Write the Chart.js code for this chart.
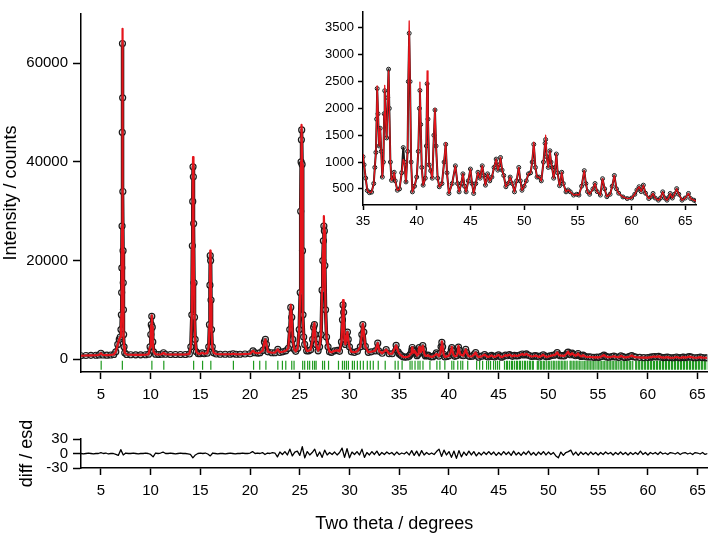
<!DOCTYPE html>
<html>
<head>
<meta charset="utf-8">
<script src="https://cdn.jsdelivr.net/npm/chart.js@4.4.1/dist/chart.umd.min.js"></script>
<style>
html, body { margin: 0; padding: 0; background: #fff; }
#page { position: relative; width: 713px; height: 535px; overflow: hidden; }
.box { position: absolute; }
</style>
</head>
<body>
<div id="page">
  <div class="box" style="left:0;top:0;width:713px;height:410px"><canvas id="mainChart"></canvas></div>
  <div class="box" style="left:0;top:420px;width:713px;height:115px"><canvas id="diffChart"></canvas></div>
  <div class="box" style="left:300px;top:0;width:413px;height:235px"><canvas id="insetChart"></canvas></div>
</div>
<script>
const twoTheta = [
    3.0, 3.5, 4.0, 4.5, 4.8, 5.0, 5.2, 5.6, 6.0, 6.3,
    6.5, 6.7, 6.85, 6.95, 7.02, 7.06, 7.09, 7.11, 7.13, 7.15,
    7.17, 7.19, 7.21, 7.23, 7.25, 7.27, 7.29, 7.33, 7.4, 7.6,
    8.0, 8.5, 9.0, 9.5, 9.8, 9.95, 10.02, 10.07, 10.12, 10.17,
    10.22, 10.3, 10.5, 10.8, 11.1, 11.3, 11.5, 12.0, 12.5, 13.0,
    13.5, 13.9, 14.05, 14.15, 14.2, 14.24, 14.27, 14.3, 14.33, 14.37,
    14.42, 14.48, 14.6, 14.8, 15.0, 15.2, 15.4, 15.7, 15.85, 15.92,
    15.97, 16.0, 16.04, 16.08, 16.13, 16.2, 16.35, 16.6, 17.0, 17.5,
    18.0, 18.3, 18.6, 19.0, 19.5, 20.0, 20.3, 20.5, 20.8, 21.0,
    21.3, 21.45, 21.55, 21.65, 21.8, 22.2, 22.5, 22.8, 23.0, 23.3,
    23.6, 23.85, 24.0, 24.1, 24.2, 24.3, 24.45, 24.6, 24.8, 24.95,
    25.05, 25.1, 25.14, 25.17, 25.2, 25.24, 25.28, 25.33, 25.4, 25.5,
    25.7, 25.9, 26.1, 26.3, 26.4, 26.48, 26.56, 26.65, 26.85, 27.0,
    27.15, 27.25, 27.32, 27.38, 27.43, 27.48, 27.53, 27.6, 27.7, 27.85,
    28.0, 28.2, 28.5, 28.8, 29.0, 29.2, 29.3, 29.36, 29.42, 29.5,
    29.6, 29.7, 29.8, 29.88, 30.0, 30.2, 30.5, 30.8, 31.1, 31.25,
    31.35, 31.45, 31.6, 31.9, 32.2, 32.6, 32.85, 33.0, 33.3, 33.7,
    34.0, 34.3, 34.7, 34.9,
    35.0, 35.1, 35.25, 35.4, 35.6, 35.8, 36.0, 36.1, 36.2, 36.27,
    36.32, 36.4, 36.5, 36.6, 36.7, 36.8, 36.9, 36.97, 37.02, 37.1,
    37.2, 37.3, 37.38, 37.45, 37.55, 37.65, 37.8, 37.9, 38.0, 38.2,
    38.4, 38.6, 38.75, 38.85, 39.0, 39.15, 39.22, 39.3, 39.38, 39.48,
    39.6, 39.8, 40.0, 40.15, 40.25, 40.3, 40.37, 40.47, 40.6, 40.8,
    40.9, 40.97, 41.05, 41.15, 41.3, 41.45, 41.6, 41.7, 41.8, 41.95,
    42.1, 42.35, 42.55, 42.7, 42.82, 43.0, 43.3, 43.6, 43.8, 43.95,
    44.15, 44.3, 44.45, 44.6, 44.8, 45.0, 45.15, 45.3, 45.5, 45.7,
    45.9, 46.1, 46.25, 46.4, 46.6, 46.8, 47.0, 47.2, 47.4, 47.55,
    47.7, 47.8, 47.95, 48.1, 48.3, 48.5, 48.7, 48.9, 49.1, 49.3,
    49.5, 49.65, 49.8, 50.0, 50.2, 50.4, 50.6, 50.75, 50.9, 51.05,
    51.2, 51.4, 51.6, 51.8, 51.95, 52.0, 52.1, 52.25, 52.4, 52.5,
    52.6, 52.75, 52.9, 53.0, 53.12, 53.3, 53.4, 53.5, 53.65, 53.9,
    54.1, 54.3, 54.6, 54.9, 55.1, 55.35, 55.6, 55.75, 55.9, 56.1,
    56.4, 56.6, 56.8, 57.1, 57.3, 57.5, 57.7, 58.0, 58.2, 58.4,
    58.6, 58.8, 59.2, 59.6, 60.0, 60.3, 60.5, 60.7, 60.9, 61.1,
    61.3, 61.6, 61.8, 62.0, 62.2, 62.5, 62.7, 62.9, 63.1, 63.3,
    63.5, 63.6, 63.8, 64.0, 64.2, 64.4, 64.7, 65.0, 65.3, 65.5,
    65.8, 66.0
];
const observed = [
    700, 750, 780, 800, 850, 1200, 850, 820, 850, 950,
    1500, 3000, 4000, 4500, 6000, 9000, 13500, 18500, 27000, 46000,
    64000, 53000, 34000, 22000, 15500, 10000, 5000, 2500, 1300, 950,
    900, 880, 880, 900, 1000, 2500, 5000, 7000, 8700, 6500,
    3500, 1500, 1000, 950, 1000, 1300, 1000, 950, 950, 950,
    950, 1050, 2500, 9000, 23000, 32000, 39000, 37000, 27500, 15500,
    8500, 4000, 1500, 1100, 1100, 1300, 1100, 1200, 2500, 7000,
    15000, 21000, 20000, 12000, 6000, 2500, 1300, 1050, 1000, 1000,
    1000, 1100, 1000, 1000, 1050, 1100, 1700, 1300, 1200, 1300,
    1800, 3500, 4000, 3000, 1500, 1300, 1300, 2000, 1400, 1500,
    1700, 2200, 6000, 10500, 8500, 4000, 2000, 1600, 2200, 6000,
    13500, 30000, 40000, 44500, 46500, 39500, 22000, 9000, 4500, 3000,
    1700, 1700, 1900, 4000, 6500, 7000, 5000, 3000, 1700, 2500,
    5000, 14000, 20000, 24000, 27000, 26000, 19000, 10000, 4500, 2500,
    1500, 1400, 1700, 1800, 1600, 3500, 8000, 11000, 9500, 4000,
    3000, 4500, 5500, 4000, 2500, 1500, 1400, 1600, 2500, 5000,
    7000, 5500, 2600, 1400, 1500, 1700, 3250, 1600, 1200, 1950,
    1100, 1100, 2800, 1500,
    1100, 950, 700, 470, 430, 440, 600, 900, 1180, 1800,
    2370, 1900, 1300, 1630, 1200, 720, 1000, 1900, 2330, 1800,
    1450, 2200, 2730, 2000, 1000, 660, 700, 810, 650, 475,
    500, 800, 1270, 1000, 630, 1200, 2500, 3400, 2500, 1000,
    445, 550, 720, 1200, 2000, 2335, 1700, 900, 570, 700,
    1300, 2460, 1800, 950, 840, 700, 1500, 1970, 1300, 700,
    540, 600, 1000, 1330, 800, 415, 600, 930, 600, 445,
    600, 780, 550, 445, 650, 870, 600, 415, 600, 810,
    700, 930, 750, 570, 780, 650, 720, 900, 1055, 850,
    950, 1085, 850, 750, 540, 600, 720, 600, 445, 650,
    900, 650, 475, 550, 650, 780, 800, 1000, 1330, 900,
    720, 720, 650, 1000, 1350, 1420, 1100, 900, 1210, 1000,
    900, 700, 900, 1150, 800, 560, 650, 810, 600, 445,
    480, 445, 385, 400, 385, 550, 840, 600, 450, 400,
    500, 600, 450, 385, 690, 500, 355, 400, 550, 750,
    500, 420, 350, 320, 330, 400, 480, 540, 450, 570,
    420, 320, 350, 415, 330, 290, 330, 445, 330, 290,
    350, 415, 330, 400, 505, 400, 290, 330, 415, 320,
    290, 270
];
// where the calculated curve differs visibly from the observed points (peak tops)
const calcAt = [7.17, 10.12, 14.27, 16.0, 24.1, 25.2, 26.48, 27.43, 29.36, 31.35,
    35.0, 36.32, 37.02, 37.38, 38.75, 39.3, 40.3, 40.97, 41.7, 42.7, 50.9, 52.0];
const calcPeak = [67000, 8900, 41000, 22000, 11000, 47500, 7300, 29000, 12000, 7200,
    1150, 2420, 2430, 2700, 1050, 3630, 2490, 2700, 2000, 1360, 1370, 1500];

// reflection positions (green tick marks)
const reflections = [
    5.03, 7.16, 10.13, 11.33, 14.33, 15.23, 16.06, 18.33, 20.36, 20.98, 21.6, 22.8, 23.26, 23.6, 24.2, 24.43,
    25.3, 25.5, 25.8, 26.0, 26.3, 26.5, 26.65, 27.3, 27.5, 27.9, 28.9, 29.3, 29.5, 29.7, 29.9, 30.3, 30.5,
    30.8, 31.1, 31.4, 31.8, 32.1, 32.4, 32.9, 33.6, 34.6, 34.9, 35.3, 36.1, 36.3, 36.6, 36.9, 37.1, 37.4,
    38.1, 38.8, 39.1, 39.6, 40.3, 40.5, 40.9, 41.2, 41.4, 41.9, 42.8, 43.1, 43.4, 43.8,
    44.0, 44.2, 44.5, 44.7, 44.9, 45.1, 45.6, 45.8, 45.9, 46.1, 46.3, 46.4, 46.6, 46.8, 46.9, 47.1, 47.2,
    47.4, 47.6, 47.7, 47.9, 48.1, 48.2, 48.4, 48.5, 48.9, 49.0, 49.2, 49.3, 49.5, 49.6, 49.8, 50.0, 50.1,
    50.3, 50.5, 50.6, 50.8, 51.0, 51.1, 51.3, 51.4, 51.6, 51.7, 51.9, 52.2, 52.3, 52.5, 52.6, 52.8, 52.9,
    53.1, 53.2, 53.4, 53.6, 53.7, 53.9, 54.0, 54.2, 54.3, 54.5, 54.6, 54.8, 55.0, 55.1, 55.3, 55.4, 55.6,
    55.7, 55.9, 56.0, 56.2, 56.3, 56.5, 56.6, 56.8, 56.9, 57.1, 57.3, 57.4, 57.6, 57.7, 57.9, 58.0, 58.2,
    58.3, 58.5, 58.8, 58.9, 59.1, 59.2, 59.4, 59.5, 59.7, 59.8, 60.0, 60.1, 60.3, 60.4, 60.6, 60.7, 60.9,
    61.0, 61.2, 61.3, 61.5, 61.6, 61.8, 61.9, 62.1, 62.2, 62.4, 62.5, 62.7, 62.8, 63.0, 63.1, 63.3, 63.4,
    63.6, 63.7, 63.9, 64.0, 64.2, 64.3, 64.5, 64.6, 64.8, 64.9, 65.1, 65.2, 65.4, 65.5, 65.7, 65.8, 66.0
];

// difference curve (obs - calc)/esd, one value every 0.25 deg from 3 to 66
const diffStart = 3;
const diffStep = 0.25;
const diffValues = [
    0, -1, 0, 1, 0, -1, 0, 0,
    2, 0, 1, -1, 0, 0, -2, -4,
    8, -3, 1, 0, 0, 1, 0, -1,
    0, 0, 1, 0, -2, -7, 1, 0,
    1, 3, 0, 0, 1, 0, -1, 0,
    1, 0, 0, -1, -2, -9, -3, 0,
    1, 0, 1, -1, -5, 1, 0, -1,
    0, 0, -1, 0, 1, 0, -1, 0,
    0, 1, 0, 0, 1, 4, 0, 1,
    0, 2, -2, 1, 0, 2, 1, -7,
    3, -2, 4, -3, 9, -5, 3, 5,
    -4, 14, -9, 4, -3, 2, 9, -6,
    3, -8, 7, -3, 2, -2, 3, -3,
    2, 11, -8, 10, -9, 3, -2, 4,
    -3, 9, -8, 2, -3, 4, -2, 5,
    -4, 2, -2, 3, -1, 2, -3, 3,
    -2, 1, -1, 3, -3, 6, -4, 5,
    -5, 6, -3, 2, -2, 1, -2, 4,
    9, -6, 7, -3, 4, -8, 5, -10,
    6, -7, 3, -4, 5, -3, 4, -5,
    2, -3, 3, -2, 4, -2, 3, -4,
    2, -3, 4, -2, 3, -4, 5, -3,
    2, -4, 3, -2, 5, -3, 2, -4,
    3, -2, 4, -3, 3, -2, 2, -5,
    -9, 3, -4, 2, 4, 7, -3, 3,
    -4, 3, -2, 2, -3, 3, -2, 2,
    -3, 2, -2, 3, -1, 2, -3, 2,
    -2, 3, -2, 2, -3, 2, -2, 2,
    -2, 5, -2, 2, -3, 2, -1, 2,
    -2, 3, -1, 1, -2, 2, 1, -1,
    2, -2, 1, 2, -1, 1, -2, 2,
    1, -1, 2, -2, 0
];

const mainXTicks = [5, 10, 15, 20, 25, 30, 35, 40, 45, 50, 55, 60, 65];
const mainYTicks = [0, 20000, 40000, 60000];
const insetXTicks = [35, 40, 45, 50, 55, 60, 65];
const insetYTicks = [500, 1000, 1500, 2000, 2500, 3000, 3500];
const diffYTicks = [-30, 0, 30];

const RED = '#e5141b';
const GREEN = '#1f9a1f';

Chart.defaults.font.family = "'Liberation Sans', Arial, sans-serif";
Chart.defaults.color = '#000';
Chart.defaults.animation = false;

var obsPts = [];
var calcPts = [];
for (var i = 0; i < twoTheta.length; i++) {
    obsPts.push({x: twoTheta[i], y: observed[i]});
    var k = calcAt.indexOf(twoTheta[i]);
    calcPts.push({x: twoTheta[i], y: k == -1 ? observed[i] : calcPeak[k]});
}
var tickPts = reflections.map(function(v) { return {x: v, y: -1230}; });
var diffPts = diffValues.map(function(v, i) { return {x: diffStart + i * diffStep, y: v}; });
var insetObs = obsPts.filter(function(p) { return p.x >= 35; });
var insetCalc = calcPts.filter(function(p) { return p.x >= 35; });

function axis(min, max, ticks, size, len, pad) {
    return {
        type: 'linear',
        min: min,
        max: max,
        border: {display: true, color: '#000', width: 1.5},
        grid: {display: true, drawOnChartArea: false, drawTicks: true, tickLength: len, tickColor: '#000', tickWidth: 1.5},
        ticks: {
            color: '#000', font: {size: size}, padding: pad, autoSkip: false, maxRotation: 0,
            callback: function(v) { return String(v); }
        },
        afterBuildTicks: function(scale) {
            scale.ticks = ticks.map(function(v) { return {value: v}; });
        }
    };
}

function fixed(opts, w, h) {
    if (w) opts.afterFit = function(scale) { scale.width = w; };
    if (h) opts.afterFit = function(scale) { scale.height = h; };
    return opts;
}

var common = {
    responsive: true,
    maintainAspectRatio: false,
    events: [],
    plugins: {legend: {display: false}, tooltip: {enabled: false}}
};

// main pattern
var mainX = fixed(axis(3, 66, mainXTicks, 15, 7, 7), 0, 38);
var mainY = fixed(axis(-2600, 70000, mainYTicks, 15, 8, 5), 81, 0);
mainY.title = {display: true, text: 'Intensity / counts', font: {size: 18}, color: '#000', padding: 0};

new Chart(document.getElementById('mainChart'), {
    type: 'scatter',
    data: {
        datasets: [
            {data: calcPts, showLine: true, borderColor: RED, borderWidth: 2.2, pointRadius: 0,
             borderJoinStyle: 'round', order: 0},
            {data: obsPts, showLine: false, pointRadius: 3, pointBorderWidth: 1.2,
             pointBorderColor: '#1a1a1a', pointBackgroundColor: 'rgba(255,255,255,0.35)', order: 1},
            {data: obsPts, showLine: true, borderColor: '#1a1a1a', borderWidth: 3.5, pointRadius: 0,
             borderJoinStyle: 'round', borderCapStyle: 'round', order: 2},
            {data: tickPts, showLine: false, pointStyle: 'line', rotation: 90, pointRadius: 4.5,
             pointBorderColor: GREEN, pointBorderWidth: 1.2, order: 3}
        ]
    },
    options: Object.assign({}, common, {
        layout: {padding: {left: 0, right: 3, top: 0, bottom: 0}},
        scales: {x: mainX, y: mainY}
    })
});

// inset 35-66 deg
var insetX = fixed(axis(35, 66, insetXTicks, 13, 5, 4), 0, 30);
var insetY = fixed(axis(200, 3800, insetYTicks, 13, 5, 4), 63, 0);

new Chart(document.getElementById('insetChart'), {
    type: 'scatter',
    data: {
        datasets: [
            {data: insetCalc, showLine: true, borderColor: RED, borderWidth: 1.3, pointRadius: 0,
             borderJoinStyle: 'round', order: 0},
            {data: insetObs, showLine: false, pointRadius: 2, pointBorderWidth: 1,
             pointBorderColor: '#1a1a1a', pointBackgroundColor: 'rgba(255,255,255,0)', order: 1},
            {data: insetObs, showLine: true, borderColor: '#1a1a1a', borderWidth: 2, pointRadius: 0,
             borderJoinStyle: 'round', borderCapStyle: 'round', order: 2}
        ]
    },
    options: Object.assign({}, common, {
        layout: {padding: {left: 0, right: 17, top: 8, bottom: 0}},
        scales: {x: insetX, y: insetY}
    })
});

// difference plot
var diffX = fixed(axis(3, 66, mainXTicks, 15, 7, 7), 0, 67);
diffX.title = {display: true, text: 'Two theta / degrees', font: {size: 18}, color: '#000', padding: 0};
var diffY = fixed(axis(-30, 30, diffYTicks, 15, 8, 5), 81, 0);
diffY.title = {display: true, text: 'diff / esd', font: {size: 18}, color: '#000', padding: {top: 16}};

new Chart(document.getElementById('diffChart'), {
    type: 'scatter',
    data: {
        datasets: [
            {data: diffPts, showLine: true, borderColor: '#000', borderWidth: 1.3, pointRadius: 0,
             borderJoinStyle: 'round'}
        ]
    },
    options: Object.assign({}, common, {
        layout: {padding: {left: 0, right: 3, top: 19, bottom: 0}},
        scales: {x: diffX, y: diffY}
    })
});
</script>
</body>
</html>
